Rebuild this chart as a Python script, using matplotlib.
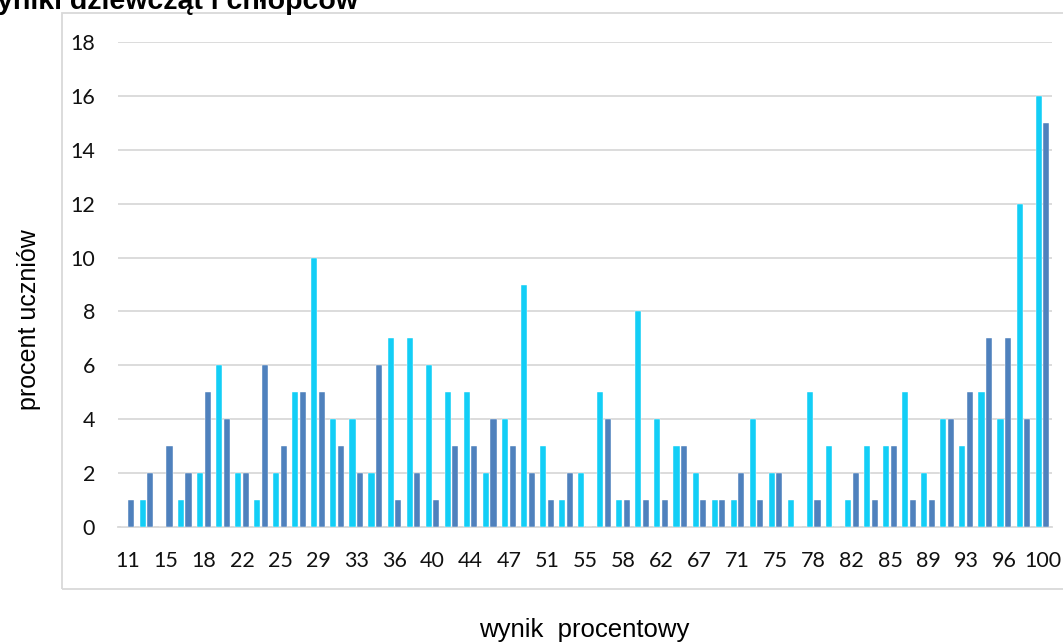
import matplotlib
matplotlib.use("Agg")
import numpy as np
from matplotlib import pyplot as plt
from matplotlib.patches import Rectangle

# wynik procentowy (kategorie osi x)
wyniki = [11, 13, 15, 16, 18, 20, 22, 24, 25, 27, 29, 31, 33, 35, 36, 38, 40, 42, 44, 45,
          47, 49, 51, 53, 55, 56, 58, 60, 62, 64, 67, 69, 71, 73, 75, 76, 78, 80, 82, 84,
          85, 87, 89, 91, 93, 95, 96, 98, 100]

# procent uczniów
dziewczeta = [0, 1, 0, 1, 2, 6, 2, 1, 2, 5, 10, 4, 4, 2, 7, 7, 6, 5, 5, 2,
              4, 9, 3, 1, 2, 5, 1, 8, 4, 3, 2, 1, 1, 4, 2, 1, 5, 3, 1, 3,
              3, 5, 2, 4, 3, 5, 4, 12, 16]
chlopcy = [1, 2, 3, 2, 5, 4, 2, 6, 3, 5, 5, 3, 2, 6, 1, 2, 1, 3, 3, 4,
           3, 2, 1, 2, 0, 4, 1, 1, 1, 3, 1, 1, 2, 1, 2, 0, 1, 0, 2, 1,
           3, 1, 1, 4, 5, 7, 7, 4, 15]

W, H = 1063, 643
fig = plt.figure(figsize=(W / 100, H / 100), dpi=100)
ax = fig.add_axes([118 / W, 1 - 527 / H, (1052 - 118) / W, (527 - 42) / H])

x = np.arange(len(wyniki))
bw = 0.32
ax.bar(x - 0.2, dziewczeta, width=bw, color="#13CEF6", edgecolor="white", linewidth=0.3, zorder=3)
ax.bar(x + 0.2, chlopcy, width=bw, color="#4F81BD", edgecolor="white", linewidth=0.3, zorder=3)

ax.set_xlim(-0.5, len(wyniki) - 0.5)
ax.set_ylim(0, 18)
ax.set_yticks(range(0, 19, 2))
ax.set_xticks(x[::2])
ax.set_xticklabels([str(w) for w in wyniki[::2]])
ax.grid(axis="y", color="#D9D9D9", linewidth=1.3, zorder=0)
ax.set_axisbelow(True)
for s in ["top", "right", "left"]:
    ax.spines[s].set_visible(False)
ax.spines["bottom"].set_color("#D9D9D9")
ax.spines["bottom"].set_linewidth(1.3)
ax.tick_params(axis="both", length=0, labelsize=15.5, labelcolor="#111111")
ax.tick_params(axis="y", pad=16.5)
ax.tick_params(axis="x", pad=17)
for lab in ax.get_xticklabels() + ax.get_yticklabels():
    lab.set_fontfamily("Lato")

# ramka obszaru wykresu
fig.patches.append(Rectangle((62 / W, 1 - 589 / H), 1.05, (589 - 13) / H,
                             transform=fig.transFigure, fill=False,
                             edgecolor="#D9D9D9", linewidth=1.3, clip_on=False))

fig.text(-25 / W, 1 - 9 / H, "wyniki dziewcząt i chłopców", fontsize=20.5,
         fontweight="bold", family="Liberation Sans", ha="left", va="baseline")
fig.text(29 / W, 1 - 320 / H, "procent uczniów", fontsize=18, family="Liberation Sans",
         rotation=90, ha="center", va="center")
fig.text(584 / W, 1 - 630 / H, "wynik  procentowy", fontsize=18.5, family="Liberation Sans",
         ha="center", va="center")

fig.savefig("out.png", dpi=100)
